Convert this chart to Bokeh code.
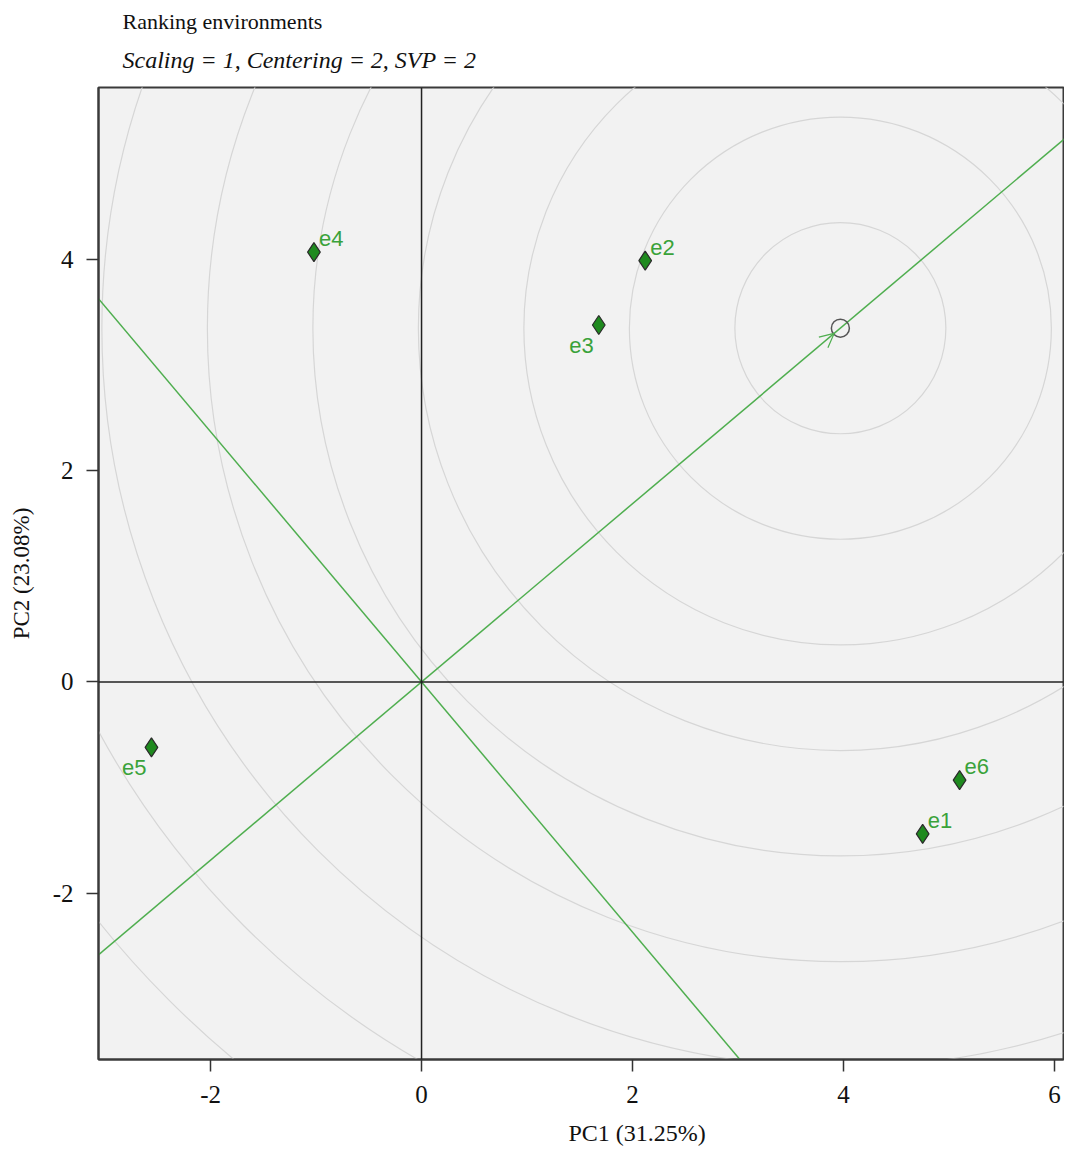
from bokeh.plotting import figure
from bokeh.models import Span, Title, Arrow, OpenHead, ColumnDataSource, Range1d
from bokeh.core.properties import value
from bokeh.embed import file_html
from bokeh.resources import INLINE

# ---- data ----
env_names = ["e1", "e2", "e3", "e4", "e5", "e6"]
pc1 = [4.75, 2.12, 1.68, -1.02, -2.56, 5.10]
pc2 = [-1.44, 3.99, 3.38, 4.07, -0.62, -0.93]
label_side = ["ur", "ur", "ll", "ur", "ll", "ur"]
aec_x = 3.97
aec_y = 3.35
circle_radii = [1, 2, 3, 4, 5, 6, 7, 8, 9, 10, 11]
x_ticks = [-2, 0, 2, 4, 6]
y_ticks = [-2, 0, 2, 4]
x_lim = (-3.062, 6.085)
y_lim = (-3.576, 5.629)

GREEN = "#4fae4f"
SERIF = "Liberation Serif"

p = figure(width=1064, height=1158, output_backend="svg", toolbar_location=None,
           x_range=Range1d(*x_lim), y_range=Range1d(*y_lim),
           min_border_left=98, min_border_right=1, min_border_bottom=98, min_border_top=87)
p.background_fill_color = "#f2f2f2"
p.border_fill_color = "white"
p.outline_line_color = "#3a3a3a"
p.outline_line_width = 2
p.xgrid.visible = False
p.ygrid.visible = False

# concentric circles around the average environment
p.ellipse(x=[aec_x] * len(circle_radii), y=[aec_y] * len(circle_radii),
          width=[2 * r for r in circle_radii], height=[2 * r for r in circle_radii],
          fill_color=None, line_color="#d6d6d6", line_width=1.2)

# zero lines
p.add_layout(Span(location=0, dimension="width", line_color="#222222", line_width=1.5))
p.add_layout(Span(location=0, dimension="height", line_color="#222222", line_width=1.5))

# average environment axis and its perpendicular through origin
slope = aec_y / aec_x
xs = [x_lim[0] - 1, x_lim[1] + 1]
p.line(xs, [slope * v for v in xs], line_color=GREEN, line_width=1.5)
p.line(xs, [-v / slope for v in xs], line_color=GREEN, line_width=1.5)

p.add_layout(Arrow(end=OpenHead(size=14, line_color=GREEN, line_width=1.2),
                   x_start=0, y_start=0, x_end=aec_x * 0.985, y_end=aec_y * 0.985,
                   line_color=GREEN, line_alpha=0))
p.scatter([aec_x], [aec_y], marker="circle", size=18, fill_color=None,
          line_color="#555555", line_width=1.5)

# environments
src = ColumnDataSource(dict(x=pc1, y=pc2, name=env_names))
p.scatter("x", "y", source=src, marker="diamond", size=19, fill_color="#1f8a1f",
          line_color="#2b2b2b", line_width=1.2)

ur = ColumnDataSource(dict(x=[a for a, s in zip(pc1, label_side) if s == "ur"],
                           y=[b for b, s in zip(pc2, label_side) if s == "ur"],
                           t=[n for n, s in zip(env_names, label_side) if s == "ur"]))
ll = ColumnDataSource(dict(x=[a for a, s in zip(pc1, label_side) if s == "ll"],
                           y=[b for b, s in zip(pc2, label_side) if s == "ll"],
                           t=[n for n, s in zip(env_names, label_side) if s == "ll"]))
p.text("x", "y", text="t", source=ur, x_offset=5, y_offset=-6, text_color="#3aa23a",
       text_font=value("Liberation Sans"), text_font_size="22px", text_baseline="bottom",
       text_align="left")
p.text("x", "y", text="t", source=ll, x_offset=-5, y_offset=13, text_color="#3aa23a",
       text_font=value("Liberation Sans"), text_font_size="22px", text_baseline="top",
       text_align="right")

# axes
for ax in (p.xaxis[0], p.yaxis[0]):
    ax.major_label_text_font = SERIF
    ax.major_label_text_font_size = "25px"
    ax.major_label_text_color = "#111111"
    ax.axis_label_text_font = SERIF
    ax.axis_label_text_font_size = "23px"
    ax.axis_label_text_font_style = "normal"
    ax.axis_label_text_color = "#111111"
    ax.minor_tick_line_color = None
    ax.major_tick_out = 12
    ax.major_tick_in = 0
    ax.major_tick_line_color = "#333333"
    ax.major_tick_line_width = 1.5
    ax.axis_line_color = "#3a3a3a"
    ax.axis_line_width = 2
    ax.major_label_overrides = {-2: "-2"}
p.xaxis.ticker = x_ticks
p.yaxis.ticker = y_ticks
p.yaxis.axis_label = "PC2 (23.08%)"
p.xaxis.major_label_standoff = 14
p.yaxis.major_label_standoff = 13
p.yaxis.axis_label_standoff = 16

p.add_layout(Title(text="PC1 (31.25%)", text_font=SERIF, text_font_style="normal",
                   text_font_size="24px", align="left", offset=470, standoff=25,
                   text_color="#111111"), "below")

p.add_layout(Title(text="Scaling = 1, Centering = 2, SVP = 2", text_font=SERIF,
                   text_font_style="italic", text_font_size="24px", offset=24,
                   standoff=30, text_color="#111111"), "above")
main_title = Title(text="Ranking environments", text_font=SERIF, text_font_style="normal",
                   text_font_size="22px", offset=24, standoff=0, text_color="#111111")
try:
    main_title.standoff = -8
except Exception:
    main_title.standoff = 0
p.add_layout(main_title, "above")

open("out.html", "w").write(file_html(p, INLINE))
